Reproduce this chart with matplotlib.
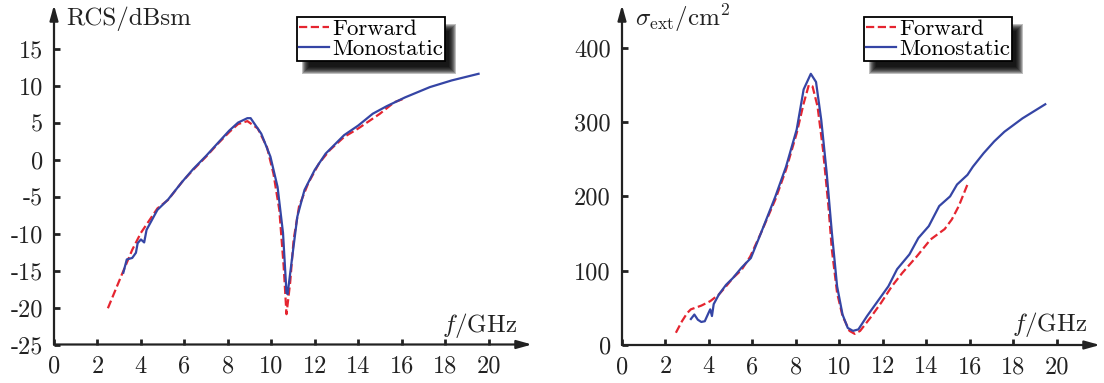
import numpy as np
import matplotlib.pyplot as plt
from matplotlib.patches import Rectangle
from matplotlib.transforms import IdentityTransform

plt.rcParams['font.family'] = 'cmr10'
plt.rcParams['mathtext.fontset'] = 'cm'
plt.rcParams['axes.unicode_minus'] = False
plt.rcParams['axes.formatter.use_mathtext'] = True

# RCS (dBsm)
rcs_fwd_f = [2.48, 3.1, 3.6, 4.0, 4.76, 5.25, 5.9, 6.4, 7.0, 7.56, 8.06, 8.47, 8.9, 9.38, 9.8,
             10.1, 10.37, 10.57, 10.7, 10.87, 11.03, 11.28, 11.7, 12.2, 12.7, 13.35, 14.0, 15.0,
             15.66, 16.07]
rcs_fwd_v = [-20.1, -15.7, -12.2, -9.9, -6.6, -5.45, -3.0, -1.4, 0.4, 2.2, 3.7, 4.8, 5.2, 4.2, 1.7,
             -1.9, -6.8, -14.4, -20.9, -16.6, -10.8, -6.3, -3.2, -0.5, 1.3, 3.05, 4.2, 6.2,
             7.75, 8.2]
rcs_mono_f = [3.19, 3.35, 3.6, 3.77, 3.85, 4.0, 4.15, 4.26, 4.76, 5.25, 5.9, 6.4, 7.0, 7.56, 8.06,
              8.47, 8.9, 9.05, 9.54, 9.96, 10.29, 10.54, 10.7, 10.75, 10.95, 11.2, 11.53, 12.0,
              12.5, 13.35, 14.0, 14.67, 15.3, 16.15, 17.3, 18.3, 19.54]
rcs_mono_v = [-15.3, -13.5, -13.3, -12.6, -11.3, -10.8, -11.2, -9.5, -6.8, -5.4, -3.0, -1.3, 0.5,
              2.3, 3.9, 5.0, 5.6, 5.6, 3.5, 0.4, -3.7, -9.9, -18.0, -18.2, -13.5, -7.7, -4.1, -1.4,
              0.8, 3.3, 4.6, 6.2, 7.2, 8.4, 9.8, 10.7, 11.6]

# extinction cross section (cm^2)
ext_fwd_f = [2.48, 2.76, 3.0, 3.17, 3.65, 4.06, 4.46, 4.79, 5.1, 5.5, 5.9, 6.4, 7.06, 7.55, 8.04,
             8.36, 8.6, 8.77, 9.0, 9.25, 9.5, 9.66, 9.9, 10.15, 10.47, 10.71, 10.96, 11.44, 11.93,
             12.42, 12.9, 13.56, 14.2, 14.85, 15.18, 15.5, 15.9]
ext_fwd_v = [16.5, 32, 43, 48, 53, 59, 68, 79, 90, 101, 119, 151, 196, 236, 285,
             325, 350, 348, 321, 263, 187, 128, 70, 39, 19, 15, 19, 37, 57,
             79, 97, 119, 142, 156, 169, 187, 216]
ext_mono_f = [3.17, 3.33, 3.49, 3.65, 3.81, 3.98, 4.06, 4.14, 4.22, 4.46, 4.79, 5.1, 5.5, 5.93,
              6.4, 7.06, 7.55, 8.04, 8.36, 8.69, 8.93, 9.17, 9.42, 9.66, 9.9, 10.15, 10.39, 10.63,
              10.88, 11.28, 11.77, 12.26, 12.66, 13.23, 13.64, 14.12, 14.6, 15.1, 15.42, 15.9,
              16.15, 16.64, 17.13, 17.6, 18.43, 19.48]
ext_mono_v = [35, 41, 34, 31, 32, 43, 48, 39, 55, 68, 81, 90, 104, 117,
              151, 200, 240, 290, 344, 365, 354, 303, 232, 151, 79, 41, 23, 19,
              21, 39, 59, 79, 102, 122, 144, 160, 187, 200, 216, 229,
              240, 258, 274, 287, 305, 324]

red = '#e52530'
blue = '#3545a5'
ink = '#222222'

W, H = 1104, 383
fig = plt.figure(figsize=(W / 100, H / 100), dpi=100)


def make_axes(x0, x1, y0, y1):
    return fig.add_axes([x0 / W, (H - y0) / H, (x1 - x0) / W, (y0 - y1) / H])


def style(ax, xmax, ymin, ymax, yticks):
    ax.set_xlim(0, xmax)
    ax.set_ylim(ymin, ymax)
    for s in ['top', 'right', 'left', 'bottom']:
        ax.spines[s].set_visible(False)
    kw = dict(arrowstyle='-|>,head_length=0.9,head_width=0.25', color=ink, lw=1.6,
              shrinkA=0, shrinkB=0)
    ax.annotate('', xy=(1, 0), xycoords='axes fraction', xytext=(0, 0), arrowprops=kw)
    ax.annotate('', xy=(0, 1), xycoords='axes fraction', xytext=(0, 0), arrowprops=kw)
    ax.set_xticks(range(0, 21, 2))
    ax.set_xticklabels([str(v) for v in range(0, 21, 2)])
    ax.set_yticks(yticks)
    ax.set_yticklabels([str(v) for v in yticks])
    ax.tick_params(direction='in', length=4, width=2, color=ink, labelsize=17.5,
                   labelcolor=ink)
    ax.tick_params(axis='x', pad=8)
    ax.tick_params(axis='y', pad=8)
    leg = ax.legend(loc='upper left', fontsize=16.5, frameon=True,
                    fancybox=False, edgecolor='black', framealpha=1, handlelength=1.3,
                    handletextpad=0.15, borderpad=0.08, labelspacing=0.0, borderaxespad=0)
    leg.get_frame().set_linewidth(1.3)
    return leg


def add_shadow(ax, leg):
    fig.canvas.draw()
    bb = leg.get_window_extent()
    for k in range(-4, 4):
        r = Rectangle((bb.x0 + 8 - k, bb.y0 - 10 - k), bb.width + 2 * k, bb.height + 2 * k,
                      transform=IdentityTransform(), facecolor='black', edgecolor='none',
                      alpha=0.25, zorder=4.5, clip_on=False)
        ax.add_patch(r)


# left panel
ax1 = make_axes(54, 532, 344.5, 5)
ax1.plot(rcs_fwd_f, rcs_fwd_v, '--', color=red, lw=1.6, label='Forward')
ax1.plot(rcs_mono_f, rcs_mono_v, '-', color=blue, lw=1.6, label='Monostatic')
leg1 = style(ax1, 22.0, -25, 20.9, list(range(-25, 16, 5)))
leg1.set_bbox_to_anchor(((297 - 54) / 478, (344.5 - 17) / 339.5), transform=ax1.transAxes)
ax1.text(0.55, 19.1, 'RCS/dBsm', fontsize=18, va='center', ha='left', color=ink)
ax1.text(21.33, -22.4, r'$f$/GHz', fontsize=18, va='center', ha='right', color=ink)

# right panel
ax2 = make_axes(622, 1100, 345, 5)
ax2.plot(ext_fwd_f, ext_fwd_v, '--', color=red, lw=1.6, label='Forward')
ax2.plot(ext_mono_f, ext_mono_v, '-', color=blue, lw=1.6, label='Monostatic')
leg2 = style(ax2, 22.0, 0, 457.6, [0, 100, 200, 300, 400])
leg2.set_bbox_to_anchor(((864 - 622) / 478, (345 - 17) / 340), transform=ax2.transAxes)
ax2.text(0.6, 440, r'$\sigma_{\rm ext}/{\rm cm}^2$', fontsize=18, va='center', ha='left',
         color=ink)
ax2.text(21.4, 27, r'$f$/GHz', fontsize=18, va='center', ha='right', color=ink)

add_shadow(ax1, leg1)
add_shadow(ax2, leg2)

fig.savefig('out.png', dpi=100)
